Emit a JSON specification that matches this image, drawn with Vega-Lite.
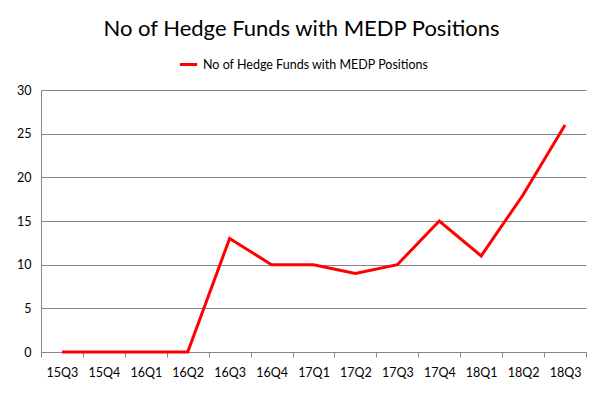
{
  "$schema": "https://vega.github.io/schema/vega-lite/v6.json",
  "width": 545,
  "height": 262,
  "autosize": "none",
  "padding": {"left": 41, "top": 90, "right": 16, "bottom": 46},
  "background": "white",
  "title": {
    "text": "No of Hedge Funds with MEDP Positions",
    "font": "Lato",
    "fontSize": 22,
    "fontWeight": "normal",
    "color": "black",
    "anchor": "middle",
    "frame": "group",
    "dx": -12,
    "offset": 13
  },
  "data": {
    "values": [
      {"q": "15Q3", "v": 0, "s": "No of Hedge Funds with MEDP Positions"},
      {"q": "15Q4", "v": 0, "s": "No of Hedge Funds with MEDP Positions"},
      {"q": "16Q1", "v": 0, "s": "No of Hedge Funds with MEDP Positions"},
      {"q": "16Q2", "v": 0, "s": "No of Hedge Funds with MEDP Positions"},
      {"q": "16Q3", "v": 13, "s": "No of Hedge Funds with MEDP Positions"},
      {"q": "16Q4", "v": 10, "s": "No of Hedge Funds with MEDP Positions"},
      {"q": "17Q1", "v": 10, "s": "No of Hedge Funds with MEDP Positions"},
      {"q": "17Q2", "v": 9, "s": "No of Hedge Funds with MEDP Positions"},
      {"q": "17Q3", "v": 10, "s": "No of Hedge Funds with MEDP Positions"},
      {"q": "17Q4", "v": 15, "s": "No of Hedge Funds with MEDP Positions"},
      {"q": "18Q1", "v": 11, "s": "No of Hedge Funds with MEDP Positions"},
      {"q": "18Q2", "v": 18, "s": "No of Hedge Funds with MEDP Positions"},
      {"q": "18Q3", "v": 26, "s": "No of Hedge Funds with MEDP Positions"}
    ]
  },
  "mark": {"type": "line", "strokeWidth": 3, "strokeJoin": "miter"},
  "encoding": {
    "x": {
      "field": "q",
      "type": "ordinal",
      "sort": null,
      "bandPosition": 0.5,
      "scale": {"type": "band", "paddingInner": 0, "paddingOuter": 0},
      "axis": {
        "title": null,
        "labelAngle": 0,
        "tickBand": "extent",
        "tickSize": 5,
        "tickColor": "#868686",
        "domainColor": "#868686",
        "labelPadding": 9,
        "labelFont": "Lato",
        "labelFontSize": 12.5,
        "labelColor": "black",
        "grid": false
      }
    },
    "y": {
      "field": "v",
      "type": "quantitative",
      "scale": {"domain": [0, 30], "nice": false},
      "axis": {
        "title": null,
        "values": [0, 5, 10, 15, 20, 25, 30],
        "ticks": false,
        "domainColor": "#868686",
        "gridColor": "#868686",
        "labelPadding": 10,
        "labelFont": "Lato",
        "labelFontSize": 12.5,
        "labelColor": "black"
      }
    },
    "color": {
      "field": "s",
      "type": "nominal",
      "scale": {"range": ["#ff0000"]},
      "legend": {
        "title": null,
        "orient": "none",
        "legendX": 137,
        "legendY": -36,
        "direction": "horizontal",
        "symbolType": "stroke",
        "symbolStrokeWidth": 3,
        "symbolSize": 300,
        "labelFont": "Lato",
        "labelFontSize": 12.5,
        "labelLimit": 0,
        "labelColor": "black"
      }
    }
  },
  "config": {"view": {"stroke": null}}
}
